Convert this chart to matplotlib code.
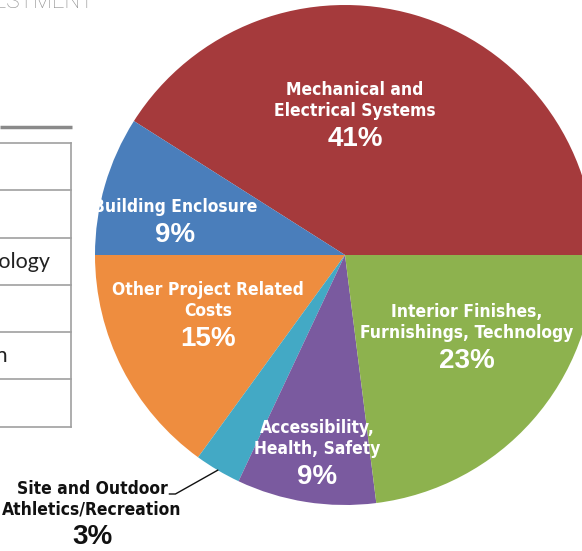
import matplotlib
matplotlib.use("Agg")
import matplotlib.pyplot as plt
from matplotlib import font_manager as fm
import numpy as np

# ---------------- data ----------------
categories = ["Mechanical and\nElectrical Systems", "Building Enclosure",
              "Other Project Related\nCosts", "Site and Outdoor\nAthletics/Recreation",
              "Accessibility,\nHealth, Safety", "Interior Finishes,\nFurnishings, Technology"]
shares = [41, 9, 15, 3, 9, 23]
colors = ["#a53a3c", "#4a7ebb", "#ee8d3f", "#43a9c5", "#7a5a9f", "#8db24e"]

# table rows peeking in from the left (only the tails of two are visible)
table_rows = {2: "Interior Finishes, Furnishings, Technology",
              4: "Site and Outdoor Athletics/Recreation"}

# ---------------- layout (pixels, y down) ----------------
W, H = 582, 551
cx, cy, R = 345, 255, 250
# label anchor: (x, y of first name line)
label_pos = [(355, 90), (175, 207), (208, 290), (92, 489), (317, 428), (467, 312)]
label_col = ["white"] * 3 + ["#111111"] + ["white"] * 2
line_h = 20.5

# look for a narrow bold face for the slice names
narrow = None
for f in fm.fontManager.ttflist:
    nm = f.name + " " + f.fname
    is_narrow = ("Narrow" in nm or "Condensed" in nm
                 or f.stretch in ("condensed", "semi-condensed", "extra-condensed"))
    if is_narrow and f.weight in ("bold", 700, "heavy", 800):
        narrow = f.fname
        break
if narrow:
    name_fp = fm.FontProperties(fname=narrow, size=12.5)
else:
    name_fp = fm.FontProperties(family=["Roboto", "DejaVu Sans"], weight="bold", size=10.5)
pct_font = ["Liberation Sans", "DejaVu Sans"]

fig = plt.figure(figsize=(W / 100, H / 100), dpi=100)
ax = fig.add_axes([0, 0, 1, 1])

wedges, _ = ax.pie(shares, colors=colors, startangle=0, counterclock=False,
                   center=(cx, cy), radius=R, wedgeprops=dict(linewidth=0))
ax.set_xlim(0, W)
ax.set_ylim(H, 0)
ax.axis("off")

name_texts = []
for name, v, (x, y), c in zip(categories, shares, label_pos, label_col):
    n = name.count("\n") + 1
    lines = []
    for i, line in enumerate(name.split("\n")):
        lines.append(ax.text(x, y + i * line_h, line, ha="center", va="center",
                             color=c, fontproperties=name_fp))
    name_texts.append(lines)
    ax.text(x, y + (n - 1) * line_h + 28, f"{v}%", ha="center", va="center",
            color=c, fontsize=20, fontweight="bold" if c != "white" else "semibold",
            family=pct_font)

# leader line for the small slice, starting just after its first label line
fig.canvas.draw()
bb = name_texts[3][0].get_window_extent().transformed(ax.transData.inverted())
x0 = max(bb.x0, bb.x1) + 2
w = wedges[3]
mid = np.deg2rad((w.theta1 + w.theta2) / 2)
ex, ey = cx + R * np.cos(mid), cy + R * np.sin(mid)
ax.plot([x0, x0 + 6, ex], [494, 494, ey], color="#111111", lw=1)

# partial table on the left
ax.plot([0, 72], [127, 127], color="#8a8a8a", lw=2.5, solid_capstyle="butt")
row_y = [143, 190, 238, 285, 332, 379, 427]
for y in row_y:
    ax.plot([0, 71], [y, y], color="#a0a0a0", lw=1.2)
ax.plot([71, 71], [row_y[0], row_y[-1]], color="#a0a0a0", lw=1.2)
for i, txt in table_rows.items():
    xr = {2: 50, 4: 8}[i]
    ax.text(xr, (row_y[i] + row_y[i + 1]) / 2, txt, ha="right", va="center",
            fontsize=15.5, color="#222222", family=["Lato", "DejaVu Sans"])

# cut-off heading
ax.text(94, 8, "INVESTMENT", ha="right", va="baseline", fontsize=16,
        color="#8f8f8f", family=["Roboto", "DejaVu Sans"], fontweight="light")

fig.savefig("out.png", dpi=100)
